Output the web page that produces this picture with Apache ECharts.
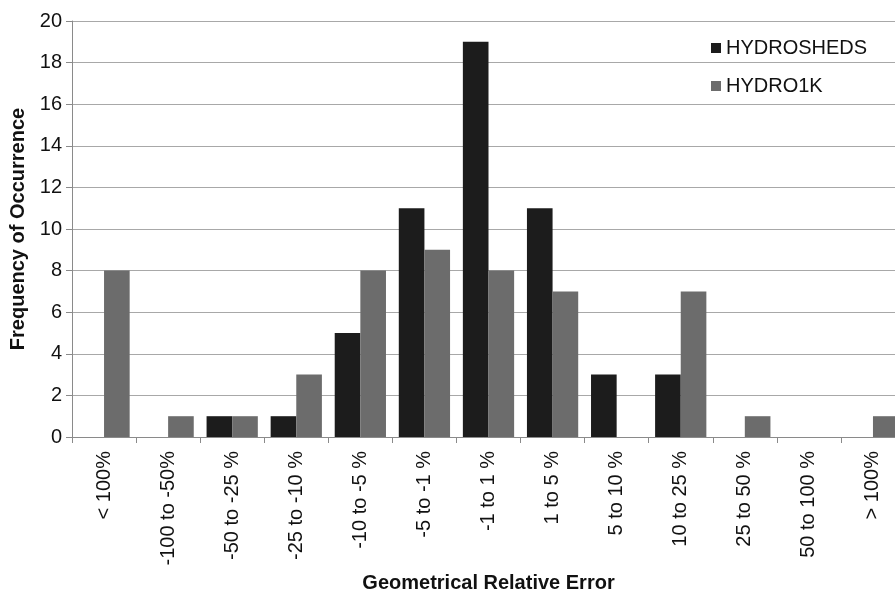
<!DOCTYPE html>
<html>
<head>
<meta charset="utf-8">
<script src="https://cdn.jsdelivr.net/npm/echarts@6/dist/echarts.min.js"></script>
<style>
html,body{margin:0;padding:0;background:#fff;}
#chart{width:895px;height:593px;}
</style>
</head>
<body>
<div id="chart"></div>
<script>
var categories = ['< 100%', '-100 to -50%', '-50 to -25 %', '-25 to -10 %', '-10 to -5 %', '-5 to -1 %', '-1 to 1 %', '1 to 5 %', '5 to 10 %', '10 to 25 %', '25 to 50 %', '50 to 100 %', '> 100%'];
var hydrosheds = [0, 0, 1, 1, 5, 11, 19, 11, 3, 3, 0, 0, 0];
var hydro1k = [8, 1, 1, 3, 8, 9, 8, 7, 0, 7, 1, 0, 1];
var yTicks = [0, 2, 4, 6, 8, 10, 12, 14, 16, 18, 20];

var FONT = '"Liberation Sans", Arial, Helvetica, sans-serif';
var chart = echarts.init(document.getElementById('chart'), null, {renderer: 'canvas'});
chart.setOption({
  animation: false,
  backgroundColor: '#ffffff',
  textStyle: {fontFamily: FONT},
  grid: {left: 72, top: 21, bottom: 156, right: -10, containLabel: false, outerBoundsMode: 'none'},
  legend: {
    orient: 'vertical',
    left: 711,
    top: 38,
    padding: 0,
    itemWidth: 10,
    itemHeight: 10,
    itemGap: 18,
    icon: 'rect',
    textStyle: {fontFamily: FONT, fontSize: 20, color: '#111'},
    data: ['HYDROSHEDS', 'HYDRO1K']
  },
  xAxis: {
    type: 'category',
    data: categories,
    name: 'Geometrical Relative Error',
    nameLocation: 'middle',
    nameGap: 135,
    nameTextStyle: {fontFamily: FONT, fontSize: 20, fontWeight: 'bold', color: '#111'},
    axisLine: {lineStyle: {color: '#8a8a8a', width: 1}},
    axisTick: {show: true, length: 6, lineStyle: {color: '#8a8a8a'}},
    axisLabel: {rotate: 90, fontFamily: FONT, fontSize: 20, color: '#111', margin: 14, interval: 0}
  },
  yAxis: {
    type: 'value',
    min: 0,
    max: 20,
    interval: 2,
    name: 'Frequency of Occurrence',
    nameLocation: 'middle',
    nameGap: 43,
    nameTextStyle: {fontFamily: FONT, fontSize: 20, fontWeight: 'bold', color: '#111'},
    axisLine: {show: true, lineStyle: {color: '#8a8a8a', width: 1}},
    axisTick: {show: true, length: 6, lineStyle: {color: '#8a8a8a'}},
    axisLabel: {fontFamily: FONT, fontSize: 20, color: '#111', margin: 10,
      formatter: function (v) { return yTicks.indexOf(v) >= 0 ? String(v) : ''; }},
    splitLine: {show: true, lineStyle: {color: '#a8a8a8', width: 1}}
  },
  series: [
    {name: 'HYDROSHEDS', type: 'bar', data: hydrosheds, barGap: '0%', barCategoryGap: '20%',
     itemStyle: {color: '#1c1c1c'}},
    {name: 'HYDRO1K', type: 'bar', data: hydro1k, barGap: '0%', barCategoryGap: '20%',
     itemStyle: {color: '#6c6c6c'}}
  ]
});
</script>
</body>
</html>
